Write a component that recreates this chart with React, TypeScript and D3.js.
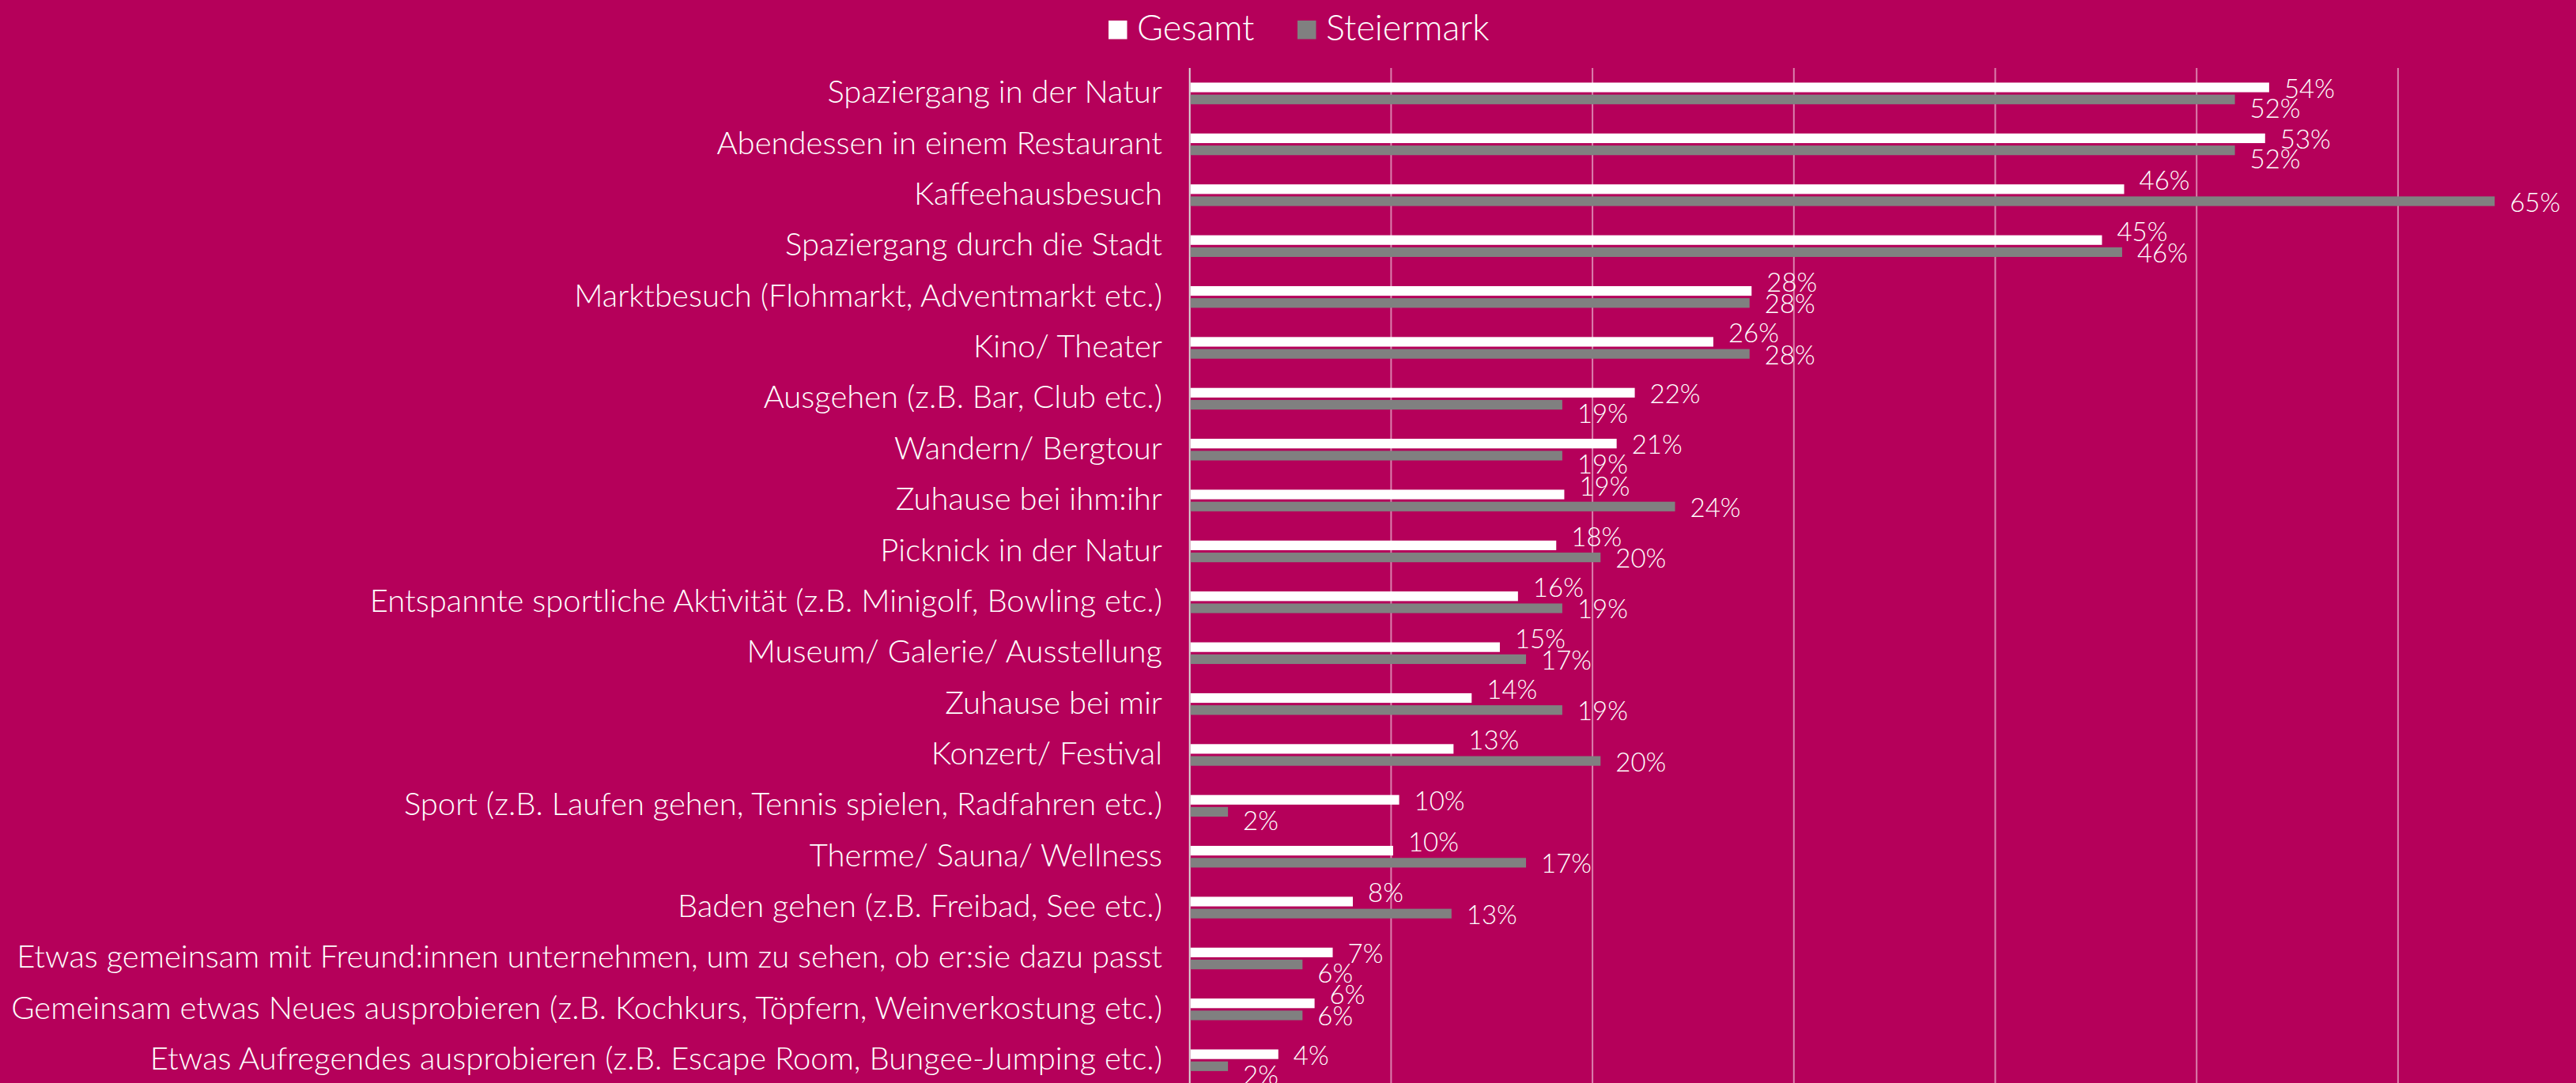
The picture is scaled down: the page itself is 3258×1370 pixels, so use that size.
import React from "react";
import * as d3 from "d3";

const categories = [
  "Spaziergang in der Natur",
  "Abendessen in einem Restaurant",
  "Kaffeehausbesuch",
  "Spaziergang durch die Stadt",
  "Marktbesuch (Flohmarkt, Adventmarkt etc.)",
  "Kino/ Theater",
  "Ausgehen (z.B. Bar, Club etc.)",
  "Wandern/ Bergtour",
  "Zuhause bei ihm:ihr",
  "Picknick in der Natur",
  "Entspannte sportliche Aktivität (z.B. Minigolf, Bowling etc.)",
  "Museum/ Galerie/ Ausstellung",
  "Zuhause bei mir",
  "Konzert/ Festival",
  "Sport (z.B. Laufen gehen, Tennis spielen, Radfahren etc.)",
  "Therme/ Sauna/ Wellness",
  "Baden gehen (z.B. Freibad, See etc.)",
  "Etwas gemeinsam mit Freund:innen unternehmen, um zu sehen, ob er:sie dazu passt",
  "Gemeinsam etwas Neues ausprobieren (z.B. Kochkurs, Töpfern, Weinverkostung etc.)",
  "Etwas Aufregendes ausprobieren (z.B. Escape Room, Bungee-Jumping etc.)",
];

const gesamt = [53.6, 53.4, 46.4, 45.3, 27.9, 26.0, 22.1, 21.2, 18.6, 18.2, 16.3, 15.4, 14.0, 13.1, 10.4, 10.1, 8.1, 7.1, 6.2, 4.4];
const steiermark = [51.9, 51.9, 64.8, 46.3, 27.8, 27.8, 18.5, 18.5, 24.1, 20.4, 18.5, 16.7, 18.5, 20.4, 1.9, 16.7, 13.0, 5.6, 5.6, 1.9];

const seriesNames = ["Gesamt", "Steiermark"];
const seriesColors = ["#FFFFFF", "#808080"];
const xTicks = [0, 10, 20, 30, 40, 50, 60, 70];

const W = 3258;
const H = 1370;
const BG = "#B5005A";
const FONT = "Lato, 'Open Sans', sans-serif";

export default function App() {
  const x = d3.scaleLinear().domain([0, 70]).range([1504.7, 1504.7 + 7 * 254.7]);
  const y = d3.scaleBand<string>().domain(categories).range([86, 86 + 20 * 64.37]).padding(0);
  const inner = d3
    .scaleBand<string>()
    .domain(seriesNames)
    .range([-13.7, 13.7])
    .paddingInner(0.2)
    .paddingOuter(0);

  const rows = categories.map((c, i) => ({ c, vals: [gesamt[i], steiermark[i]] }));

  return (
    <svg
      width={W}
      height={H}
      style={{ position: "absolute", left: 0, top: 0, display: "block", background: BG }}
      fontFamily={FONT}
      fontWeight={300}
    >
      <rect x={0} y={0} width={W} height={H} fill={BG} />
      {xTicks.map((t) => (
        <line
          key={t}
          x1={x(t)}
          x2={x(t)}
          y1={86}
          y2={H + 10}
          stroke={t === 0 ? "#D9D9D9" : "#DA80AC"}
          strokeWidth={2}
        />
      ))}
      {rows.map((r) => {
        const c = (y(r.c) as number) + y.bandwidth() / 2;
        const whiteRight = r.vals[0] > r.vals[1] + 1;
        return (
          <g key={r.c}>
            {r.vals.map((v, si) => {
              const top = c + (inner(seriesNames[si]) as number);
              const bh = inner.bandwidth();
              const cy = top + bh / 2;
              let off = 0;
              if (whiteRight) off = si === 1 ? 10 : 0;
              else off = si === 0 ? -12 : 0;
              return (
                <g key={si}>
                  <rect x={x(0) + 1} y={top} width={x(v) - x(0) - 1} height={bh} fill={seriesColors[si]} />
                  <text
                    x={x(v) + 19}
                    y={cy + off}
                    dominantBaseline="central"
                    fontSize={33}
                    fill="#FFFFFF"
                  >
                    {Math.round(v) + "%"}
                  </text>
                </g>
              );
            })}
            <text x={1470} y={c + 12} textAnchor="end" fontSize={40} fill="#FFFFFF">
              {r.c}
            </text>
          </g>
        );
      })}
      <g>
        <rect x={1402} y={26} width={23.5} height={23.5} fill={seriesColors[0]} />
        <text x={1438} y={51} fontSize={45} fill="#FFFFFF">
          {seriesNames[0]}
        </text>
        <rect x={1641} y={26} width={23.5} height={23.5} fill={seriesColors[1]} />
        <text x={1677} y={51} fontSize={45} fill="#FFFFFF">
          {seriesNames[1]}
        </text>
      </g>
    </svg>
  );
}
